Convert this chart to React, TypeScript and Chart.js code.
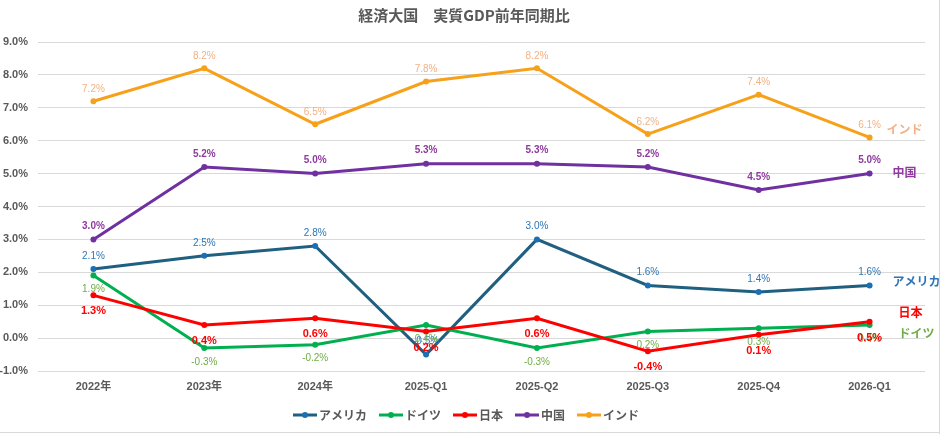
import React, { useEffect, useRef } from "react";
import { Chart, registerables } from "chart.js";

Chart.register(...registerables);

// 期間ラベル
const CATEGORIES = ["2022年", "2023年", "2024年", "2025-Q1", "2025-Q2", "2025-Q3", "2025-Q4", "2026-Q1"];

// 実質GDP 前年同期比(%)
const USA = [2.1, 2.5, 2.8, -0.5, 3.0, 1.6, 1.4, 1.6];
const GERMANY = [1.9, -0.3, -0.2, 0.4, -0.3, 0.2, 0.3, 0.4];
const JAPAN = [1.3, 0.4, 0.6, 0.2, 0.6, -0.4, 0.1, 0.5];
const CHINA = [3.0, 5.2, 5.0, 5.3, 5.3, 5.2, 4.5, 5.0];
const INDIA = [7.2, 8.2, 6.5, 7.8, 8.2, 6.2, 7.4, 6.1];

const SERIES_NAMES = ["アメリカ", "ドイツ", "日本", "中国", "インド"];
const SERIES_VALUES = [USA, GERMANY, JAPAN, CHINA, INDIA];

const TITLE = "経済大国　実質GDP前年同期比";
const Y_MIN = -1;
const Y_MAX = 9;
const Y_STEP = 1;

const LATIN = "'Liberation Sans', Arial, 'Noto Sans CJK JP', sans-serif";
const JP = "'Noto Sans CJK JP', 'Liberation Sans', sans-serif";
const GRAY = "#595959";

// 系列ごとの見た目
const STYLES = [
  { line: "#1F5F80", point: "#1B6FB5", label: "#2E75B6", labelFont: `10px ${LATIN}`, labelDy: -13, end: "#2E75B6", endDx: 23, endDy: -4 },
  { line: "#00B050", point: "#00B050", label: "#70AD47", labelFont: `10px ${LATIN}`, labelDy: 14, end: "#70AD47", endDx: 29, endDy: 8 },
  { line: "#FF0000", point: "#FF0000", label: "#FF0000", labelFont: `bold 11px ${LATIN}`, labelDy: 16, end: "#FF0000", endDx: 29, endDy: -9.5 },
  { line: "#7030A0", point: "#7030A0", label: "#8E3A9E", labelFont: `bold 10px ${LATIN}`, labelDy: -13, end: "#8E3A9E", endDx: 23, endDy: -1.5 },
  { line: "#F7A11A", point: "#F7A11A", label: "#F4B183", labelFont: `10px ${LATIN}`, labelDy: -12, end: "#F4B183", endDx: 17, endDy: -8 },
];

const decorPlugin = {
  id: "decor",
  beforeDraw(chart: any) {
    const { ctx, width, height } = chart;
    ctx.save();
    ctx.fillStyle = "#ffffff";
    ctx.fillRect(0, 0, width, height);
    ctx.strokeStyle = "#d9d9d9";
    ctx.lineWidth = 1;
    ctx.beginPath();
    ctx.moveTo(939.5, 0);
    ctx.lineTo(939.5, height);
    ctx.moveTo(0, height - 1.5);
    ctx.lineTo(939.5, height - 1.5);
    ctx.stroke();
    ctx.restore();
  },
  afterDatasetsDraw(chart: any) {
    const { ctx } = chart;
    ctx.save();
    ctx.textBaseline = "middle";
    // 各点の値ラベル
    chart.data.datasets.forEach((ds: any, i: number) => {
      const st = STYLES[i];
      const meta = chart.getDatasetMeta(i);
      ctx.font = st.labelFont;
      ctx.fillStyle = st.label;
      ctx.textAlign = "center";
      meta.data.forEach((pt: any, j: number) => {
        const v = ds.data[j];
        ctx.fillText(v.toFixed(1) + "%", pt.x, pt.y + st.labelDy);
      });
    });
    // 右端の系列名
    chart.data.datasets.forEach((ds: any, i: number) => {
      const st = STYLES[i];
      const meta = chart.getDatasetMeta(i);
      const last = meta.data[meta.data.length - 1];
      ctx.font = `bold 12px ${JP}`;
      ctx.fillStyle = st.end;
      ctx.textAlign = "left";
      ctx.fillText(ds.label, last.x + st.endDx, last.y + st.endDy);
    });
    ctx.restore();
  },
  afterDraw(chart: any) {
    const { ctx } = chart;
    ctx.save();
    // タイトル
    ctx.font = `bold 15px ${JP}`;
    ctx.fillStyle = GRAY;
    ctx.textAlign = "center";
    ctx.textBaseline = "middle";
    ctx.fillText(TITLE, 464, 15);

    // 凡例
    const lineLen = 24;
    const gapText = 2;
    const gapItem = 12;
    ctx.font = `bold 12px ${JP}`;
    const widths = chart.data.datasets.map((ds: any) => ctx.measureText(ds.label).width);
    const total =
      widths.reduce((a: number, b: number) => a + b, 0) +
      widths.length * (lineLen + gapText) +
      (widths.length - 1) * gapItem;
    let x = 466 - total / 2;
    const y = 415;
    chart.data.datasets.forEach((ds: any, i: number) => {
      const st = STYLES[i];
      ctx.strokeStyle = st.line;
      ctx.lineWidth = 3;
      ctx.beginPath();
      ctx.moveTo(x, y);
      ctx.lineTo(x + lineLen, y);
      ctx.stroke();
      ctx.fillStyle = st.point;
      ctx.beginPath();
      ctx.arc(x + lineLen / 2, y, 3, 0, Math.PI * 2);
      ctx.fill();
      ctx.fillStyle = GRAY;
      ctx.textAlign = "left";
      ctx.fillText(ds.label, x + lineLen + gapText, y);
      x += lineLen + gapText + widths[i] + gapItem;
    });
    ctx.restore();
  },
};

export default function App() {
  const canvasRef = useRef<HTMLCanvasElement | null>(null);

  useEffect(() => {
    const canvas = canvasRef.current;
    if (!canvas) return;
    const datasets = SERIES_VALUES.map((values, i) => ({
      label: SERIES_NAMES[i],
      data: values,
      borderColor: STYLES[i].line,
      backgroundColor: STYLES[i].point,
      pointBackgroundColor: STYLES[i].point,
      pointBorderColor: STYLES[i].point,
      pointRadius: 3,
      pointBorderWidth: 0,
      borderWidth: 3,
      tension: 0,
      order: SERIES_VALUES.length - i,
    }));
    const chart = new Chart(canvas, {
      type: "line",
      data: { labels: CATEGORIES, datasets },
      options: {
        responsive: false,
        animation: false,
        layout: { padding: { left: 0, top: 42, right: 19, bottom: 0 } },
        plugins: {
          legend: { display: false },
          title: { display: false },
          tooltip: { enabled: false },
        },
        scales: {
          x: {
            offset: true,
            grid: { display: false, drawTicks: false },
            border: { display: false },
            ticks: {
              padding: 9,
              color: GRAY,
              font: { size: 11, weight: "bold", family: LATIN },
              maxRotation: 0,
              autoSkip: false,
            },
            afterFit(scale: any) {
              scale.height = 63;
            },
          },
          y: {
            min: Y_MIN,
            max: Y_MAX,
            grid: { color: "#d9d9d9", drawTicks: false },
            border: { display: false },
            ticks: {
              stepSize: Y_STEP,
              padding: 10,
              color: GRAY,
              font: { size: 11, weight: "bold", family: LATIN },
              callback: (v: any) => Number(v).toFixed(1) + "%",
            },
            afterFit(scale: any) {
              scale.width = 38;
            },
          },
        },
      },
      plugins: [decorPlugin],
    });
    return () => chart.destroy();
  }, []);

  return (
    <div style={{ position: "absolute", left: 0, top: 0, width: 944, height: 434 }}>
      <canvas ref={canvasRef} width={944} height={434} style={{ display: "block" }} />
    </div>
  );
}
